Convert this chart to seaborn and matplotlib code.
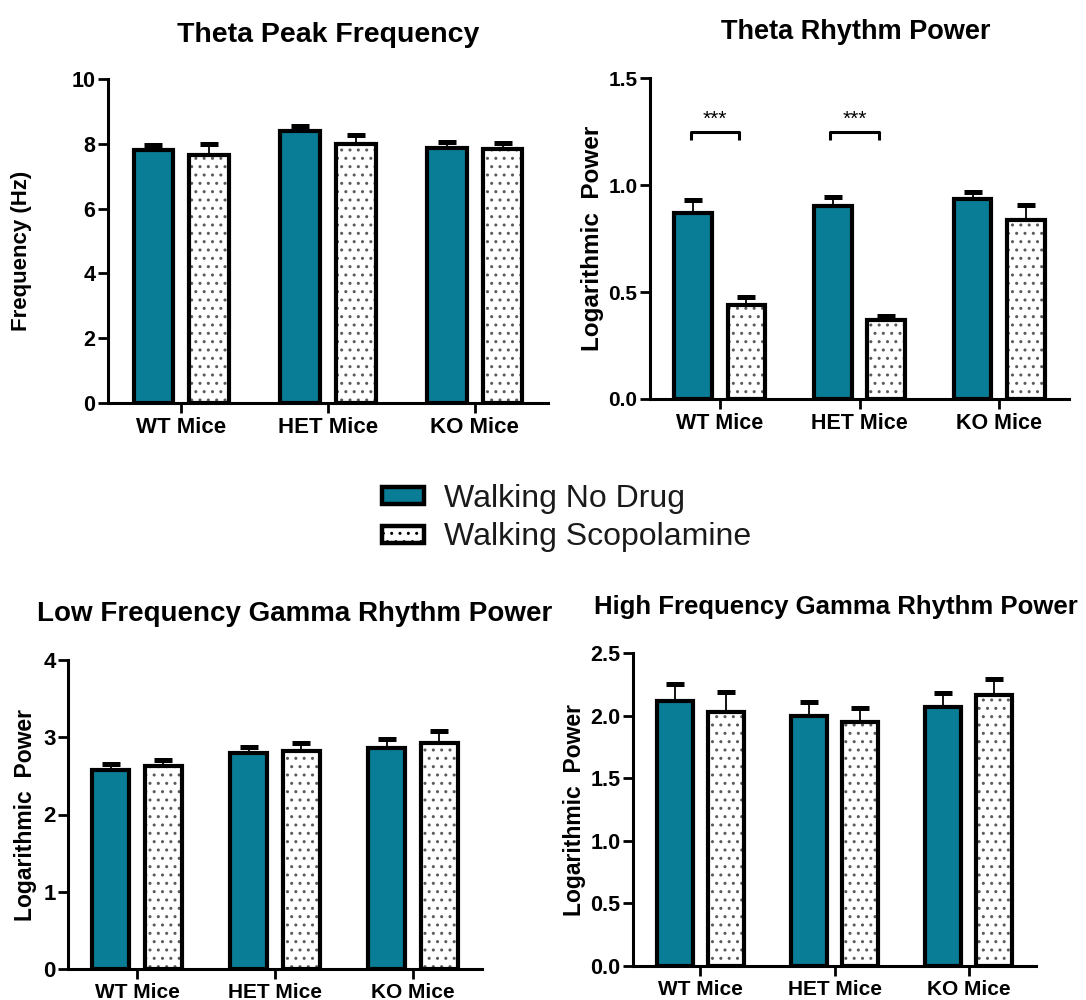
import numpy as np
import pandas as pd
import seaborn as sns
import matplotlib
matplotlib.use("Agg")
import matplotlib.pyplot as plt
from matplotlib.patches import Patch, Rectangle
from matplotlib.container import BarContainer
from matplotlib.ticker import FormatStrFormatter

# ---- data: group means and SEM ----
groups = ["WT Mice", "HET Mice", "KO Mice"]
conditions = ["Walking No Drug", "Walking Scopolamine"]

theta_freq_nodrug = [7.80, 8.40, 7.87]
theta_freq_nodrug_sem = [0.15, 0.14, 0.18]
theta_freq_scop = [7.66, 8.00, 7.83]
theta_freq_scop_sem = [0.32, 0.28, 0.18]

theta_pow_nodrug = [0.87, 0.90, 0.935]
theta_pow_nodrug_sem = [0.06, 0.045, 0.033]
theta_pow_scop = [0.44, 0.37, 0.835]
theta_pow_scop_sem = [0.035, 0.017, 0.07]

low_gamma_nodrug = [2.57, 2.80, 2.86]
low_gamma_nodrug_sem = [0.08, 0.08, 0.12]
low_gamma_scop = [2.63, 2.82, 2.93]
low_gamma_scop_sem = [0.08, 0.11, 0.15]

high_gamma_nodrug = [2.12, 2.00, 2.07]
high_gamma_nodrug_sem = [0.13, 0.11, 0.11]
high_gamma_scop = [2.03, 1.95, 2.165]
high_gamma_scop_sem = [0.16, 0.11, 0.125]

sig_groups = ["WT Mice", "HET Mice"]
sig_label = "***"

TEAL = "#0a7d96"

sns.set_theme(style="ticks")
plt.rcParams["font.family"] = ["Liberation Sans", "DejaVu Sans"]
plt.rcParams["font.weight"] = "bold"
plt.rcParams["text.color"] = "black"
plt.rcParams["axes.labelcolor"] = "black"
plt.rcParams["xtick.color"] = "black"
plt.rcParams["ytick.color"] = "black"
plt.rcParams["hatch.linewidth"] = 1.0

W, H = 1086, 1000
fig = plt.figure(figsize=(W / 100, H / 100), dpi=100)


def px_rect(l, t, r, b):
    return [l / W, 1 - b / H, (r - l) / W, (b - t) / H]


def draw_panel(ax, nodrug, nodrug_err, scop, scop_err, ymax, yticks, fmt,
               xsize, ysize):
    df = pd.DataFrame({
        "Genotype": groups * 2,
        "Condition": [conditions[0]] * 3 + [conditions[1]] * 3,
        "Value": list(nodrug) + list(scop),
    })
    sns.barplot(data=df, x="Genotype", y="Value", hue="Condition",
                order=groups, hue_order=conditions,
                palette=[TEAL, "white"], saturation=1,
                width=0.76, gap=0.29, errorbar=None,
                edgecolor="black", linewidth=3.0, legend=False, ax=ax)
    errs = [nodrug_err, scop_err]
    bar_sets = [c for c in ax.containers if isinstance(c, BarContainer)]
    for ci, cont in enumerate(bar_sets):
        xs, ys = [], []
        for bar in cont:
            xs.append(bar.get_x() + bar.get_width() / 2)
            ys.append(bar.get_height())
            bar.set_zorder(2)
            if ci == 1:
                bar.set_hatch("..")
                bar.set_edgecolor("#5a5a5a")
                bar.set_linewidth(0)
                ax.add_patch(Rectangle(bar.get_xy(), bar.get_width(),
                                       bar.get_height(), fill=False,
                                       edgecolor="black", linewidth=3.0,
                                       zorder=3))
        ax.errorbar(xs, ys, yerr=errs[ci], fmt="none", ecolor="black",
                    elinewidth=1.3, capsize=6.5, capthick=3.6, zorder=1)
    ax.set_xlim(-0.5, 2.5)
    ax.set_ylim(0, ymax)
    ax.set_yticks(yticks)
    ax.yaxis.set_major_formatter(FormatStrFormatter(fmt))
    ax.set_xlabel("")
    ax.set_ylabel("")
    sns.despine(ax=ax)
    for s in ("left", "bottom"):
        ax.spines[s].set_linewidth(2.2)
        ax.spines[s].set_color("black")
    ax.tick_params(axis="x", length=7, width=2, labelsize=xsize, pad=3,
                   color="black", labelcolor="black")
    ax.tick_params(axis="y", length=7, width=2, labelsize=ysize, pad=2,
                   color="black", labelcolor="black")
    for lab in ax.get_xticklabels() + ax.get_yticklabels():
        lab.set_fontweight("bold")
    ax.set_facecolor("white")


# Theta peak frequency
ax1 = fig.add_axes(px_rect(108, 79, 548, 403))
draw_panel(ax1, theta_freq_nodrug, theta_freq_nodrug_sem, theta_freq_scop,
           theta_freq_scop_sem, 10, [0, 2, 4, 6, 8, 10], "%d", 16, 15.5)
fig.text(328 / W, 1 - 42 / H, "Theta Peak Frequency", ha="center",
         va="baseline", fontsize=20.5, fontweight="bold")
fig.text(22 / W, 1 - 251 / H, "Frequency (Hz)", rotation=90, ha="center",
         va="center", fontsize=16, fontweight="bold")

# Theta rhythm power
ax2 = fig.add_axes(px_rect(650, 78, 1069, 399))
draw_panel(ax2, theta_pow_nodrug, theta_pow_nodrug_sem, theta_pow_scop,
           theta_pow_scop_sem, 1.5, [0, 0.5, 1.0, 1.5], "%.1f", 15.5, 15)
fig.text(856 / W, 1 - 39 / H, "Theta Rhythm Power", ha="center",
         va="baseline", fontsize=19.5, fontweight="bold")
fig.text(592 / W, 1 - 238 / H, "Logarithmic  Power", rotation=90,
         ha="center", va="center", fontsize=17.5, fontweight="bold")
for g in sig_groups:
    i = groups.index(g)
    x0, x1 = i - 0.21, i + 0.14
    ax2.plot([x0, x0, x1, x1], [1.208, 1.248, 1.248, 1.208], color="black",
             lw=2.2, solid_capstyle="butt", clip_on=False)
    ax2.text((x0 + x1) / 2, 1.262, sig_label, ha="center", va="bottom",
             fontsize=15, fontweight="normal", color="black")

# Low frequency gamma
ax3 = fig.add_axes(px_rect(68, 660, 482, 969))
draw_panel(ax3, low_gamma_nodrug, low_gamma_nodrug_sem, low_gamma_scop,
           low_gamma_scop_sem, 4, [0, 1, 2, 3, 4], "%d", 15, 16)
fig.text(295 / W, 1 - 621 / H, "Low Frequency Gamma Rhythm Power",
         ha="center", va="baseline", fontsize=20, fontweight="bold")
fig.text(26 / W, 1 - 815 / H, "Logarithmic  Power", rotation=90,
         ha="center", va="center", fontsize=16.5, fontweight="bold")

# High frequency gamma
ax4 = fig.add_axes(px_rect(633, 653, 1036, 966))
draw_panel(ax4, high_gamma_nodrug, high_gamma_nodrug_sem, high_gamma_scop,
           high_gamma_scop_sem, 2.5, [0, 0.5, 1.0, 1.5, 2.0, 2.5], "%.1f",
           15, 15.5)
fig.text(836 / W, 1 - 614 / H, "High Frequency Gamma Rhythm Power",
         ha="center", va="baseline", fontsize=18.5, fontweight="bold")
fig.text(575 / W, 1 - 810 / H, "Logarithmic  Power", rotation=90,
         ha="center", va="center", fontsize=16.5, fontweight="bold")

# Shared legend
handles = [
    Patch(facecolor=TEAL, edgecolor="black", linewidth=3.2),
    Patch(facecolor="white", edgecolor="black", linewidth=3.2, hatch=".."),
]
leg = fig.legend(handles, conditions, loc="center left",
                 bbox_to_anchor=(382 / W, 1 - 518 / H), frameon=False,
                 fontsize=23, handlelength=1.3, handleheight=0.45,
                 handletextpad=0.65, labelspacing=0.28, borderpad=0,
                 borderaxespad=0)
for t in leg.get_texts():
    t.set_fontweight("normal")
    t.set_color("#1a1a1a")

fig.savefig("out.png", dpi=100, facecolor="white")
